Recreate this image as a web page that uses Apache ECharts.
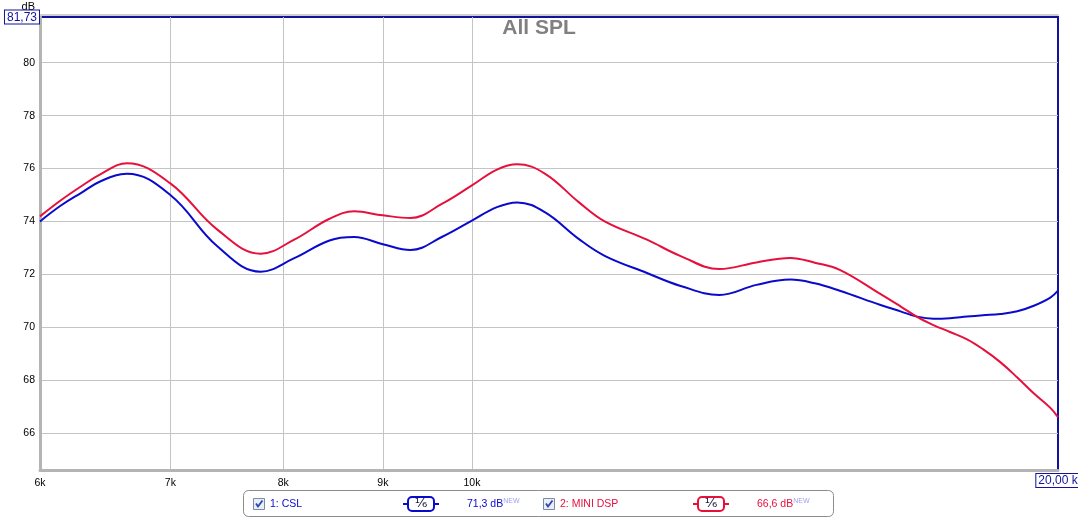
<!DOCTYPE html>
<html><head><meta charset="utf-8">
<script src="https://cdn.jsdelivr.net/npm/echarts@6/dist/echarts.min.js"></script>
<style>html,body{margin:0;padding:0;background:#fff}#c{width:1078px;height:518px}</style>
</head><body><div id="c"></div>
<script>
// ---- data ----
const freqs = [6000, 6150, 6300, 6450, 6650, 7000, 7400, 7790, 8100, 8450, 8700, 9000, 9300, 9650, 10000, 10300, 10550, 10900, 11350, 11700, 12300, 12800, 13400, 14000, 14570, 15000, 15450, 16200, 16600, 16930, 17260, 17600, 17960, 18300, 18680, 19060, 19420, 19820, 20000];
const cslDb = [74.0, 74.6, 75.08, 75.53, 75.8, 75.0, 73.06, 72.1, 72.6, 73.28, 73.41, 73.14, 72.92, 73.41, 74.03, 74.54, 74.72, 74.35, 73.33, 72.7, 72.05, 71.56, 71.22, 71.6, 71.8, 71.66, 71.38, 70.85, 70.6, 70.4, 70.32, 70.34, 70.4, 70.45, 70.5, 70.6, 70.8, 71.12, 71.38];
const miniDspDb = [74.19, 74.8, 75.33, 75.8, 76.2, 75.44, 73.69, 72.78, 73.3, 74.1, 74.38, 74.23, 74.13, 74.66, 75.36, 75.96, 76.16, 75.81, 74.72, 74.0, 73.31, 72.69, 72.2, 72.45, 72.62, 72.44, 72.17, 71.27, 70.79, 70.39, 70.08, 69.82, 69.54, 69.17, 68.68, 68.1, 67.52, 66.95, 66.6];
const seriesNames = ['1: CSL', '2: MINI DSP'];
const legendValues = ['71,3 dB', '66,6 dB'];
const xTicks = [6000, 7000, 8000, 9000, 10000];
const xMin = 6000, xMax = 20000;
const xMaxLabel = '20,00 k';
const yTicks = [66, 68, 70, 72, 74, 76, 78, 80];
const yMin = 64.6, yMax = 81.73;
const yMaxLabel = '81,73';
const titleText = 'All SPL';
const unitText = 'dB';

// ---- chart ----
const FONT = 'Liberation Sans, Arial, sans-serif';
const colors = ['#0a0acc', '#e6103c'];
const boxBlue = '#12129c';
const L = v => Math.log10(v);
const fmtK = v => Math.round(Math.pow(10, v) / 1000) + 'k';
const chart = echarts.init(document.getElementById('c'), null, {renderer: 'canvas'});

const legendGraphics = [{
  type: 'rect', shape: {x: 243.5, y: 490.5, width: 590, height: 26, r: 5},
  style: {fill: '#fff', stroke: '#8c8c8c', lineWidth: 1}, z: 10
}];
const entryX = [253, 543];
seriesNames.forEach((name, i) => {
  const x = entryX[i], c = colors[i];
  legendGraphics.push(
    {type: 'rect', shape: {x: x + 0.5, y: 498.5, width: 11, height: 11}, style: {fill: '#e9eef7', stroke: '#7d8aa6', lineWidth: 1}, z: 11},
    {type: 'polyline', shape: {points: [[x + 3, 503.5], [x + 5, 506.5], [x + 9.5, 500.5]]}, style: {stroke: '#2846b4', lineWidth: 1.8, fill: null}, z: 12},
    {type: 'text', x: x + 17, y: 504, style: {text: name, fill: c, font: '10.5px ' + FONT, verticalAlign: 'middle'}, z: 11},
    {type: 'line', shape: {x1: x + 150, y1: 504, x2: x + 186, y2: 504}, style: {stroke: c, lineWidth: 2}, z: 11},
    {type: 'rect', shape: {x: x + 155, y: 497, width: 26, height: 14, r: 4}, style: {fill: '#fff', stroke: c, lineWidth: 2}, z: 12},
    {type: 'text', x: x + 168, y: 504, style: {text: '¹⁄₆', fill: '#1a1a40', font: '13px DejaVu Sans', align: 'center', verticalAlign: 'middle'}, z: 13},
    {type: 'text', x: x + 214, y: 504, style: {
      text: '{v|' + legendValues[i] + '}{n|NEW}', verticalAlign: 'middle',
      rich: {v: {fill: c, font: '10.5px ' + FONT}, n: {fill: '#a0a0f0', font: '7px ' + FONT, verticalAlign: 'top', padding: [0, 0, 6, 0]}}
    }, z: 11}
  );
});

const option = {
  animation: false,
  backgroundColor: '#fff',
  title: {text: titleText, left: 'center', top: 13, textStyle: {fontFamily: FONT, fontSize: 21, fontWeight: 'bold', color: '#808080'}},
  grid: {left: 40, right: 20, top: 17, bottom: 48, containLabel: false, outerBoundsMode: 'none',
         show: true, borderColor: boxBlue, borderWidth: 2, backgroundColor: '#fff'},
  xAxis: [{
    type: 'value', min: L(xMin), max: L(xMax), position: 'bottom',
    axisLine: {show: true, lineStyle: {color: '#b4b4b4', width: 3}},
    axisTick: {show: false, customValues: xTicks.map(L)},
    axisLabel: {customValues: xTicks.map(L), formatter: fmtK, margin: 8, color: '#000', fontSize: 10.5, fontFamily: FONT},
    splitLine: {show: true, lineStyle: {color: '#c4c4c4', width: 1}}
  }, {
    type: 'value', min: L(xMin), max: L(xMax), position: 'bottom',
    axisLine: {show: false}, axisTick: {show: false, customValues: [L(xMax)]},
    axisLabel: {customValues: [L(xMax)], margin: 4, formatter: () => '{b|' + xMaxLabel + '}',
      rich: {b: {color: boxBlue, fontSize: 12, fontFamily: FONT, borderColor: boxBlue, borderWidth: 1, padding: [1, 2, 0, 2], backgroundColor: '#fff'}}},
    splitLine: {show: false}
  }, {
    type: 'value', min: L(xMin), max: L(xMax), position: 'top', offset: 2,
    axisLine: {show: true, lineStyle: {color: '#cfcfcf', width: 2}},
    axisTick: {show: false}, axisLabel: {show: false}, splitLine: {show: false}
  }],
  yAxis: [{
    type: 'value', min: yMin, max: yMax, position: 'left',
    name: unitText, nameLocation: 'end', nameGap: 5,
    nameTextStyle: {align: 'right', padding: [0, 5, 0, 0], color: '#000', fontSize: 11, fontFamily: FONT},
    axisLine: {show: true, lineStyle: {color: '#b4b4b4', width: 3}},
    axisTick: {show: false, customValues: yTicks},
    axisLabel: {customValues: yTicks, margin: 5, color: '#000', fontSize: 10.5, fontFamily: FONT},
    splitLine: {show: true, lineStyle: {color: '#c4c4c4', width: 1}}
  }, {
    type: 'value', min: yMin, max: yMax, position: 'left',
    axisLine: {show: false}, axisTick: {show: false, customValues: [yMax]},
    axisLabel: {customValues: [yMax], margin: 1, formatter: () => '{b|' + yMaxLabel + '}',
      rich: {b: {color: boxBlue, fontSize: 12, fontFamily: FONT, borderColor: boxBlue, borderWidth: 1, padding: [1, 2, 0, 2], backgroundColor: '#fff'}}},
    splitLine: {show: false}
  }],
  series: [
    {name: seriesNames[0], type: 'line', xAxisIndex: 0, yAxisIndex: 0, smooth: 0.4, showSymbol: false,
     data: freqs.map((f, i) => [L(f), cslDb[i]]), lineStyle: {color: colors[0], width: 2}, itemStyle: {color: colors[0]}},
    {name: seriesNames[1], type: 'line', xAxisIndex: 0, yAxisIndex: 0, smooth: 0.4, showSymbol: false,
     data: freqs.map((f, i) => [L(f), miniDspDb[i]]), lineStyle: {color: colors[1], width: 2}, itemStyle: {color: colors[1]}}
  ],
  graphic: legendGraphics
};
chart.setOption(option);
</script></body></html>
